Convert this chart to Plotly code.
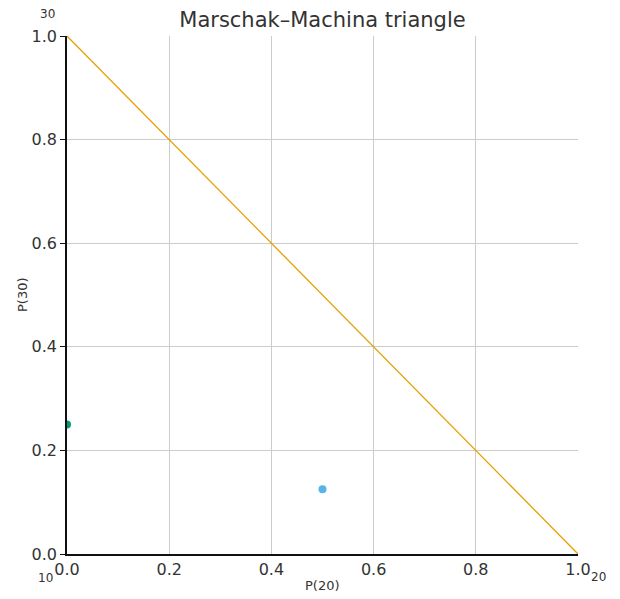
import plotly.graph_objects as go

# data
line_x = [0.0, 1.0]
line_y = [1.0, 0.0]
point_x = [0.0, 0.5]
point_y = [0.25, 0.125]
point_colors = ["#009e73", "#56b4e9"]
tick_vals = [0.0, 0.2, 0.4, 0.6, 0.8, 1.0]
tick_text = ["0.0", "0.2", "0.4", "0.6", "0.8", "1.0"]
corner_labels = ["30", "10", "20"]

FONT = "DejaVu Sans"
TXT = "#333333"
W, H = 612, 591

fig = go.Figure()
fig.add_trace(go.Scatter(x=line_x, y=line_y, mode="lines",
                         line=dict(color="#e69f00", width=1.3), showlegend=False))
for px, py, c in zip(point_x, point_y, point_colors):
    fig.add_trace(go.Scatter(x=[px], y=[py], mode="markers",
                             marker=dict(color=c, size=8), showlegend=False))

axis_common = dict(range=[0, 1], tickvals=tick_vals, ticktext=tick_text,
                   showgrid=True, gridcolor="#cccccc", gridwidth=1,
                   zeroline=False, automargin=False,
                   tickfont=dict(family=FONT, size=16, color=TXT),
                   showline=True, linecolor="#111", linewidth=1.5)

fig.update_xaxes(**axis_common, ticks="", ticklabelstandoff=0)
fig.update_yaxes(**axis_common, ticks="outside", ticklen=5, tickcolor="#111",
                 ticklabelstandoff=0)

ann_font = dict(family=FONT, size=12, color=TXT)
title_font = dict(family=FONT, size=13, color=TXT)
# axis titles
fig.add_annotation(text="P(20)", x=0.5, y=0, xref="paper", yref="paper",
                   xanchor="center", yanchor="middle", yshift=-31,
                   showarrow=False, font=title_font)
fig.add_annotation(text="P(30)", x=0, y=0.5, xref="paper", yref="paper",
                   xanchor="center", yanchor="middle", xshift=-45, textangle=-90,
                   showarrow=False, font=title_font)
# corner labels
fig.add_annotation(text=corner_labels[0], x=0, y=1, xref="paper", yref="paper",
                   xanchor="center", yanchor="middle", xshift=-20, yshift=22,
                   showarrow=False, font=ann_font)
fig.add_annotation(text=corner_labels[1], x=0, y=0, xref="paper", yref="paper",
                   xanchor="center", yanchor="middle", xshift=-22, yshift=-24,
                   showarrow=False, font=ann_font)
fig.add_annotation(text=corner_labels[2], x=1, y=0, xref="paper", yref="paper",
                   xanchor="center", yanchor="middle", xshift=20, yshift=-23,
                   showarrow=False, font=ann_font)

fig.update_layout(
    width=W, height=H,
    margin=dict(l=59, r=42, t=28, b=45),
    plot_bgcolor="white", paper_bgcolor="white",
    title=dict(text="Marschak\u2013Machina triangle", x=0.5, xref="paper",
               xanchor="center", y=1 - 12 / H, yanchor="middle",
               font=dict(family=FONT, size=21, color=TXT)),
)

fig.write_html("out.html")
